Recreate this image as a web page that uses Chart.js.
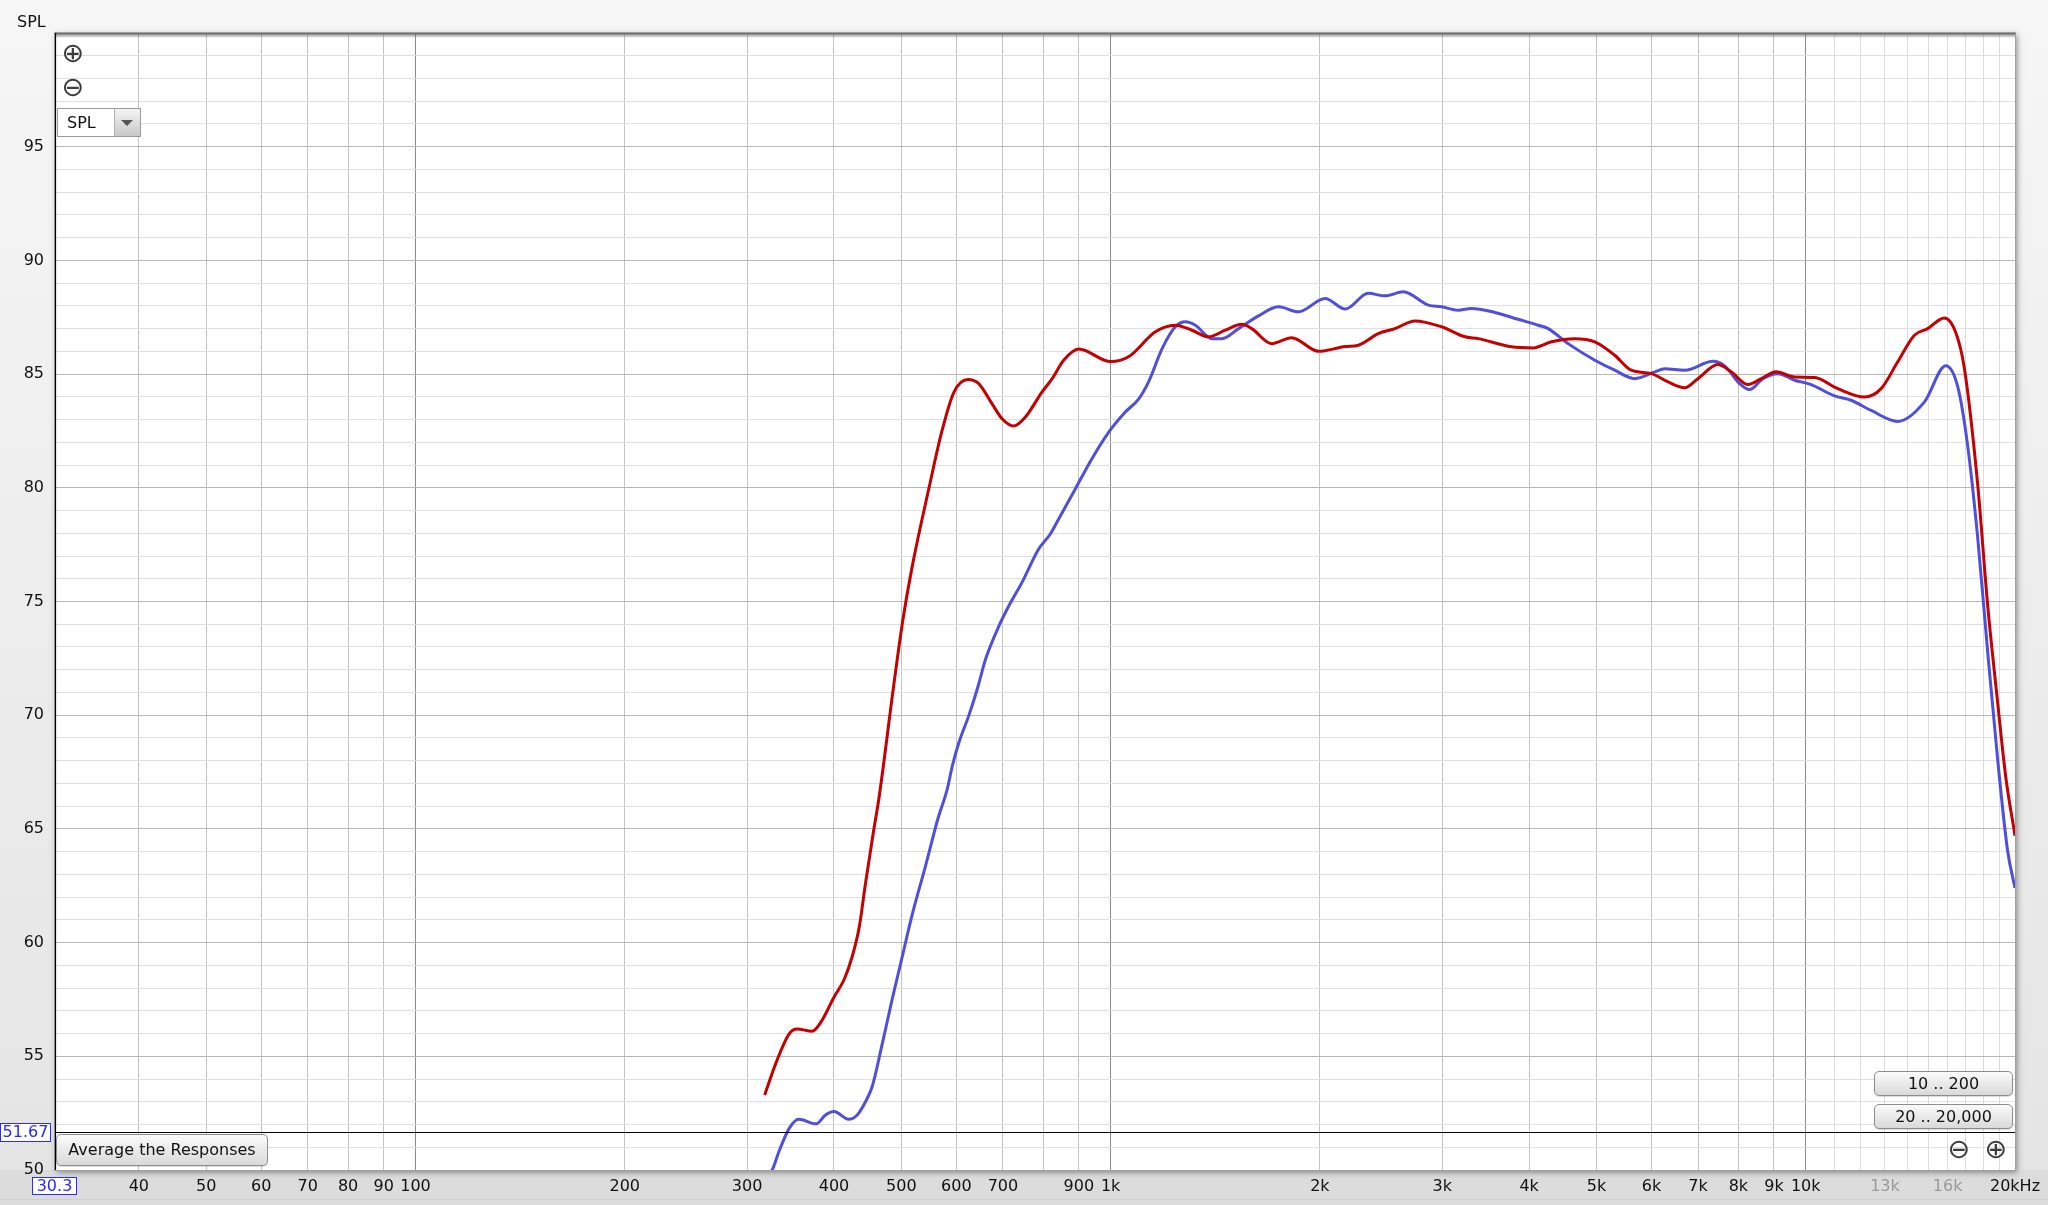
<!DOCTYPE html>
<html>
<head>
<meta charset="utf-8">
<script src="https://cdn.jsdelivr.net/npm/chart.js@4.4.0/dist/chart.umd.min.js"></script>
<style>
  html, body { margin: 0; padding: 0; overflow: hidden; background: #ececec; }
  #wrap { position: relative; width: 2048px; height: 1205px; font-family: "DejaVu Sans", sans-serif; }
  canvas { position: absolute; left: 0; top: 0; }
  .ov { position: absolute; box-sizing: border-box; color: #111; font-size: 16px; }
  .icon { font-family: "DejaVu Sans", sans-serif; font-size: 27px; color: #3c3c3c; line-height: 27px; width: 28px; text-align: center; }
  .btn { border: 1px solid #8d8d8d; border-radius: 5px; background: linear-gradient(#fbfbfb, #d9d9d9);
         text-align: center; box-shadow: 0 1px 1px rgba(0,0,0,0.15); }
  .readout { border: 1px solid #2a2aff; color: #2a2aff; background: #fff; text-align: center; font-size: 16px; line-height: 16px; }
</style>
</head>
<body>
<div id="wrap">
  <canvas id="myChart" width="2048" height="1205"></canvas>

  <div class="ov" style="left:17px; top:12px;">SPL</div>

  <div class="ov icon" style="left:59px; top:39px;">⊕</div>
  <div class="ov icon" style="left:59px; top:73px;">⊖</div>

  <div class="ov" style="left:57px; top:108px; width:84px; height:29px; border:1px solid #9a9a9a; background:#fff;">
    <span style="position:absolute; left:9px; top:4px;">SPL</span>
    <div style="position:absolute; right:0; top:0; width:25px; height:27px; border-left:1px solid #b0b0b0; background:linear-gradient(#f4f4f4,#c8c8c8);">
      <div style="position:absolute; left:6px; top:11px; width:0; height:0; border-left:6px solid transparent; border-right:6px solid transparent; border-top:6px solid #555;"></div>
    </div>
  </div>

  <div class="ov btn" style="left:56px; top:1134px; width:212px; height:32px; line-height:30px;">Average the Responses</div>

  <div class="ov btn" style="left:1874px; top:1071px; width:139px; height:25px; line-height:23px;">10 .. 200</div>
  <div class="ov btn" style="left:1874px; top:1104px; width:139px; height:25px; line-height:23px;">20 .. 20,000</div>

  <div class="ov icon" style="left:1945px; top:1135px;">⊖</div>
  <div class="ov icon" style="left:1982px; top:1135px;">⊕</div>

  <div class="ov readout" style="left:0px; top:1123px; width:51px; height:19px;">51.67</div>
  <div class="ov readout" style="left:32px; top:1177px; width:45px; height:18px;">30.3</div>
</div>

<script>
// measured responses (Hz / dB SPL)
var redFreq = [318, 330, 345, 354, 372, 383, 400, 414, 425, 435, 444, 456, 464, 487, 502, 518, 548, 572, 595, 624,
  646, 675, 698, 726, 754, 797, 824, 856, 900, 1000, 1061, 1160, 1239, 1309, 1383, 1462, 1544, 1596, 1705, 1822,
  1991, 2175, 2272, 2427, 2565, 2741, 2993, 3233, 3379, 3773, 4054, 4307, 4653, 4973, 5311, 5611, 5995, 6336, 6697, 6995,
  7474, 7812, 8254, 8628, 9066, 9637, 10296, 11120, 12148, 12836, 13562, 14333, 14977, 15828, 16450, 16904, 17668, 18268, 18877, 19404, 20000];
var redSpl = [53.3, 54.7, 56.0, 56.2, 56.1, 56.5, 57.6, 58.4, 59.4, 60.7, 62.6, 64.9, 66.3, 71.2, 74.1, 76.5, 80.0, 82.5, 84.2, 84.76,
  84.58, 83.7, 83.04, 82.72, 83.11, 84.22, 84.8, 85.61, 86.1, 85.55, 85.76, 86.86, 87.15, 86.93, 86.64, 86.93, 87.19, 87.0, 86.34, 86.6,
  86.0, 86.21, 86.27, 86.78, 87.0, 87.34, 87.08, 86.64, 86.56, 86.2, 86.15, 86.42, 86.56, 86.42, 85.83, 85.17, 85.02, 84.66, 84.4, 84.8,
  85.42, 85.1, 84.54, 84.8, 85.1, 84.87, 84.85, 84.36, 83.99, 84.36, 85.54, 86.71, 87.0, 87.47, 86.8, 85.3, 80.2, 74.84, 70.6, 67.25, 64.7];

var blueFreq = [320, 326, 334, 345, 356, 377, 389, 400, 420, 432, 444, 454, 469, 485, 499, 518, 542, 565, 582, 592,
  605, 625, 643, 661, 691, 714, 746, 788, 819, 842, 890, 940, 994, 1050, 1097, 1134, 1186, 1239, 1281, 1324,
  1399, 1446, 1528, 1632, 1744, 1863, 2035, 2175, 2348, 2482, 2637, 2865, 2993, 3163, 3305, 3572, 3857, 4121, 4260, 4551,
  4973, 5311, 5675, 6066, 6268, 6697, 7354, 7646, 8033, 8304, 8676, 9117, 9637, 10181, 11000, 11623, 12420, 13562, 14818, 15900,
  16544, 17090, 17668, 18268, 18877, 19514, 20000];
var blueSpl = [49.6, 50.0, 50.88, 51.84, 52.23, 52.03, 52.42, 52.57, 52.23, 52.42, 53.0, 53.67, 55.5, 57.5, 59.1, 61.2, 63.4, 65.5, 66.74, 67.77,
  68.8, 69.97, 71.15, 72.47, 73.93, 74.81, 75.85, 77.31, 77.97, 78.63, 79.96, 81.28, 82.45, 83.33, 83.9, 84.66, 86.12, 87.08, 87.3, 87.15,
  86.56, 86.56, 87.0, 87.56, 87.96, 87.74, 88.33, 87.86, 88.55, 88.44, 88.62, 88.03, 87.96, 87.81, 87.89, 87.71, 87.41, 87.15, 87.0, 86.34,
  85.61, 85.17, 84.8, 85.1, 85.24, 85.17, 85.56, 85.36, 84.58, 84.32, 84.8, 85.02, 84.73, 84.54, 84.04, 83.85, 83.4, 82.92, 83.78, 85.37,
  84.45, 81.9, 77.87, 72.8, 68.1, 64.05, 62.4];

// axis ticks
var gridFreqs = [40, 50, 60, 70, 80, 90, 100, 200, 300, 400, 500, 600, 700, 800, 900, 1000,
  2000, 3000, 4000, 5000, 6000, 7000, 8000, 9000, 10000, 11000, 12000, 13000, 14000, 15000, 16000, 17000, 18000, 19000, 20000];
var labelFreqs = [40, 50, 60, 70, 80, 90, 100, 200, 300, 400, 500, 600, 700, 900, 1000,
  2000, 3000, 4000, 5000, 6000, 7000, 8000, 9000, 10000, 13000, 16000, 20000];
var labelText = ['40', '50', '60', '70', '80', '90', '100', '200', '300', '400', '500', '600', '700', '900', '1k',
  '2k', '3k', '4k', '5k', '6k', '7k', '8k', '9k', '10k', '13k', '16k', '20kHz'];
var dimLabels = [13000, 16000];
var yTicks = [95, 90, 85, 80, 75, 70, 65, 60, 55, 50];

var cursorHz = 30.3;
var cursorDb = 51.67;

function toPoints(xs, ys) {
  return xs.map(function (x, i) { return { x: x, y: ys[i] }; });
}

var framePlugin = {
  id: 'frame',
  beforeDraw: function (chart) {
    var ctx = chart.ctx, a = chart.chartArea;
    ctx.save();
    var g = ctx.createLinearGradient(0, 0, 0, chart.height);
    g.addColorStop(0, '#f6f6f6');
    g.addColorStop(1, '#e4e4e4');
    ctx.fillStyle = g;
    ctx.fillRect(0, 0, chart.width, chart.height);
    ctx.fillStyle = '#dcdcdc';
    ctx.fillRect(0, a.bottom, chart.width, chart.height - a.bottom);
    ctx.fillStyle = '#cfcfcf';
    ctx.fillRect(0, chart.height - 6, chart.width, 1);
    // drop shadow + white plot
    ctx.shadowColor = 'rgba(0,0,0,0.45)';
    ctx.shadowBlur = 6;
    ctx.shadowOffsetX = 2;
    ctx.shadowOffsetY = 2;
    ctx.fillStyle = '#fff';
    ctx.fillRect(a.left, a.top, a.right - a.left, a.bottom - a.top);
    ctx.restore();
  },
  afterDraw: function (chart) {
    var ctx = chart.ctx, a = chart.chartArea;
    ctx.save();
    // inner shadow at top
    var g = ctx.createLinearGradient(0, a.top, 0, a.top + 5);
    g.addColorStop(0, 'rgba(90,90,90,0.9)');
    g.addColorStop(1, 'rgba(90,90,90,0)');
    ctx.fillStyle = g;
    ctx.fillRect(a.left, a.top, a.right - a.left, 5);
    ctx.strokeStyle = '#a0a0a0';
    ctx.lineWidth = 1;
    ctx.strokeRect(a.left - 0.5, a.top - 0.5, a.right - a.left + 1, a.bottom - a.top + 1);
    // cursor lines
    var y = Math.round(chart.scales.y.getPixelForValue(cursorDb)) + 0.5;
    var x = Math.round(chart.scales.x.getPixelForValue(cursorHz)) + 0.5;
    ctx.strokeStyle = '#000';
    ctx.lineWidth = 1.2;
    ctx.beginPath();
    ctx.moveTo(a.left, y); ctx.lineTo(a.right, y);
    ctx.moveTo(x, a.top); ctx.lineTo(x, a.bottom);
    ctx.stroke();
    ctx.restore();
  }
};

Chart.defaults.font.family = '"DejaVu Sans", sans-serif';
Chart.defaults.font.size = 16;
Chart.defaults.color = '#111';

var ctx = document.getElementById('myChart');
new Chart(ctx, {
  type: 'line',
  data: {
    datasets: [{
      label: 'Response 1',
      data: toPoints(redFreq, redSpl),
      borderColor: '#c40000',
      borderWidth: 3,
      pointRadius: 0,
      cubicInterpolationMode: 'monotone'
    }, {
      label: 'Response 2',
      data: toPoints(blueFreq, blueSpl),
      borderColor: '#4f4fdc',
      borderWidth: 3,
      pointRadius: 0,
      cubicInterpolationMode: 'monotone'
    }]
  },
  options: {
    responsive: false,
    animation: false,
    layout: { padding: { top: 33, right: 33, left: 0, bottom: 0 } },
    plugins: { legend: { display: false }, tooltip: { enabled: false } },
    scales: {
      x: {
        type: 'logarithmic',
        min: 30.3,
        max: 20000,
        afterBuildTicks: function (axis) {
          axis.ticks = gridFreqs.map(function (v) { return { value: v }; });
        },
        afterFit: function (axis) { axis.height = 35; },
        border: { display: false },
        grid: {
          drawTicks: false,
          lineWidth: 1,
          color: function (c) {
            var v = c.tick && c.tick.value;
            if (v === 100 || v === 1000 || v === 10000) return '#8c8c8c';
            if (v > 10000) return '#dcdcdc';
            return '#c4c4c4';
          }
        },
        ticks: {
          autoSkip: false,
          maxRotation: 0,
          padding: 7,
          color: function (c) {
            return dimLabels.indexOf(c.tick.value) >= 0 ? '#9a9a9a' : '#111';
          },
          callback: function (value) {
            var i = labelFreqs.indexOf(value);
            return i >= 0 ? labelText[i] : '';
          }
        }
      },
      y: {
        type: 'linear',
        min: 50,
        max: 100,
        afterFit: function (axis) { axis.width = 55; },
        border: { display: false },
        grid: {
          drawTicks: false,
          lineWidth: 1,
          color: function (c) {
            var v = c.tick && c.tick.value;
            return v % 5 === 0 ? '#b8b8b8' : '#e0e0e0';
          }
        },
        ticks: {
          stepSize: 1,
          padding: 11,
          callback: function (value) {
            return yTicks.indexOf(value) >= 0 ? String(value) : '';
          }
        }
      }
    }
  },
  plugins: [framePlugin]
});
</script>
</body>
</html>
